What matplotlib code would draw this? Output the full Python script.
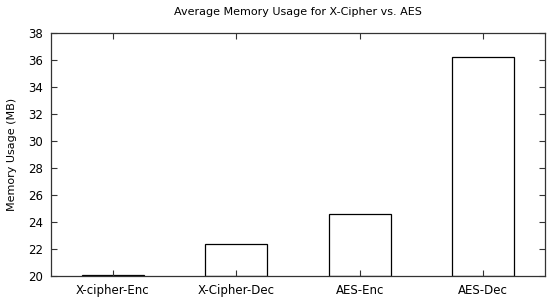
import numpy as np
import matplotlib
matplotlib.use("Agg")
import matplotlib.pyplot as plt

# data
labels = ["X-cipher-Enc", "X-Cipher-Dec", "AES-Enc", "AES-Dec"]
memory = [20.05, 22.39, 24.57, 36.2]

plt.rcParams['font.family'] = ['DejaVu Sans']

fig = plt.figure(figsize=(5.5, 3.03), dpi=100)
ax = fig.add_axes([51/550, 1 - 276/303, 494/550, 243/303])

x = np.arange(len(labels))
ax.bar(x, np.array(memory) - 20, bottom=20, width=0.5, color="white",
       edgecolor="black", linewidth=0.9)

ax.set_xlim(-0.5, 3.5)
ax.set_ylim(20, 38)
ax.set_yticks(np.arange(20, 39, 2))
ax.set_xticks(x)
ax.set_xticklabels(labels)
ax.tick_params(direction="in", top=True, right=True, length=4, width=0.8,
               labelsize=8.5, color="#333333", pad=6)
for s in ax.spines.values():
    s.set_linewidth(0.9)
    s.set_color("#333333")

ax.set_ylabel("Memory Usage (MB)", fontsize=8, labelpad=8)
ax.set_title("Average Memory Usage for X-Cipher vs. AES", fontsize=8, pad=13)

fig.savefig("out.png", dpi=100)
